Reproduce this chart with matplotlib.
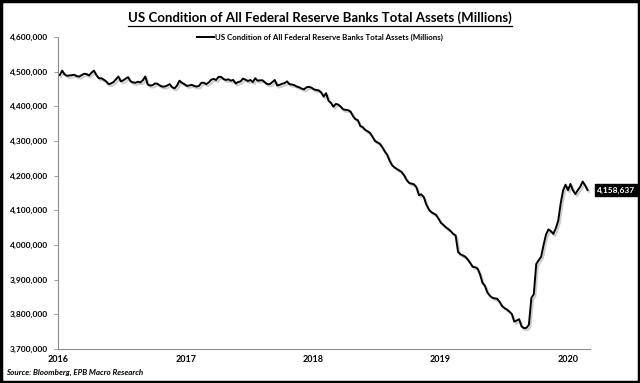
import matplotlib
matplotlib.use("Agg")
import matplotlib.pyplot as plt
import matplotlib.patheffects as pe
from matplotlib.lines import Line2D
from matplotlib.patches import Rectangle
from matplotlib.ticker import FuncFormatter
import pandas as pd
import numpy as np

plt.rcParams['font.family'] = ['Lato', 'DejaVu Sans']
plt.rcParams['font.weight'] = 'bold'

title = "US Condition of All Federal Reserve Banks Total Assets (Millions)"
series_name = "US Condition of All Federal Reserve Banks Total Assets (Millions)"
source = "Source: Bloomberg, EPB Macro Research"
start_date = "2016-01-06"  # weekly (Wednesday) observations

# values in thousands of millions-units (i.e. value/1000)
assets_2016 = [4490, 4503, 4492, 4488, 4489, 4490, 4491, 4487, 4486, 4490, 4494, 4493, 4489,
               4497, 4503, 4490, 4481, 4481, 4477, 4472, 4464, 4466, 4470, 4478, 4486, 4472,
               4475, 4480, 4484, 4472, 4469, 4468, 4471, 4469, 4475, 4486, 4463, 4460, 4461,
               4466, 4465, 4460, 4457, 4457, 4460, 4464, 4455, 4452, 4460, 4474, 4468, 4464]
assets_2017 = [4459, 4460, 4462, 4459, 4457, 4459, 4468, 4468, 4464, 4469, 4477, 4479, 4476,
               4485, 4485, 4479, 4476, 4478, 4474, 4476, 4466, 4470, 4472, 4480, 4477, 4473,
               4476, 4470, 4481, 4474, 4475, 4475, 4469, 4464, 4464, 4470, 4476, 4460, 4462,
               4465, 4467, 4472, 4464, 4463, 4461, 4457, 4455, 4451, 4449, 4455, 4456, 4454]
assets_2018 = [4449, 4447, 4446, 4440, 4428, 4438, 4416, 4410, 4399, 4407, 4405, 4399, 4391,
               4390, 4389, 4385, 4372, 4363, 4360, 4343, 4340, 4332, 4328, 4323, 4312, 4300,
               4296, 4292, 4282, 4270, 4260, 4243, 4230, 4224, 4219, 4215, 4210, 4200, 4187,
               4179, 4177, 4175, 4166, 4144, 4146, 4138, 4117, 4103, 4095, 4091, 4087, 4076]
assets_2019 = [4064, 4058, 4051, 4046, 4040, 4032, 4028, 3980, 3973, 3970, 3966, 3958, 3948,
               3937, 3936, 3932, 3915, 3891, 3882, 3863, 3854, 3848, 3846, 3845, 3836, 3824,
               3818, 3814, 3808, 3801, 3779, 3782, 3786, 3765, 3760, 3761, 3770, 3847, 3858,
               3945, 3956, 3966, 4000, 4030, 4045, 4040, 4032, 4048, 4070, 4120, 4158, 4174]
assets_2020 = [4158, 4176, 4158, 4147, 4158, 4168, 4183, 4172, 4158.637]

year_ticks = ["2016", "2017", "2018", "2019", "2020"]
y_ticks = [3700000, 3800000, 3900000, 4000000, 4100000, 4200000, 4300000, 4400000, 4500000, 4600000]

values = np.array(assets_2016 + assets_2017 + assets_2018 + assets_2019 + assets_2020) * 1000
dates = pd.date_range(start_date, periods=len(values), freq="7D")

W, H = 640, 383
fig = plt.figure(figsize=(W / 100, H / 100), dpi=100)
fig.patch.set_facecolor("white")
ax = fig.add_axes([58 / W, 1 - 349 / H, (590 - 58) / W, (349 - 37) / H])

line, = ax.plot(dates, values, color="black", lw=1.4, solid_joinstyle="round",
                label=series_name,
                path_effects=[pe.SimpleLineShadow(offset=(1.2, -1.5), shadow_color="gray", alpha=0.4),
                              pe.Normal()])

ax.set_ylim(y_ticks[0], y_ticks[-1])
ax.set_yticks(y_ticks)
ax.yaxis.set_major_formatter(FuncFormatter(lambda v, p: f"{v:,.0f}"))
ax.set_xlim(pd.Timestamp("2016-01-01"), pd.Timestamp("2020-03-04"))
ax.set_xticks([pd.Timestamp(f"{y}-01-01") for y in year_ticks])
ax.set_xticklabels(year_ticks)

for s in ["top", "right"]:
    ax.spines[s].set_visible(False)
for s in ["left", "bottom"]:
    ax.spines[s].set_color("#8c8c8c")
    ax.spines[s].set_linewidth(0.8)
ax.tick_params(axis="y", length=3, width=0.6, color="#8c8c8c", labelsize=6, pad=4)
ax.tick_params(axis="x", length=0, labelsize=6.5, pad=4)
for lab in ax.get_xticklabels() + ax.get_yticklabels():
    lab.set_fontweight("bold")

# last value label
ax.annotate(f"{values[-1]:,.0f}", xy=(dates[-1], values[-1]), xytext=(7, 0),
            textcoords="offset points", ha="left", va="center", fontsize=6,
            fontweight="bold", color="white", annotation_clip=False,
            bbox=dict(boxstyle="square,pad=0.25", fc="black", ec="black"))

# title with underline
t = fig.text(0.5, 1 - 18 / H, title, ha="center", va="center", fontsize=9.5, fontweight="bold")
fig.canvas.draw()
bb = t.get_window_extent().transformed(fig.transFigure.inverted())
fig.add_artist(Line2D([bb.x0, bb.x1], [bb.y0 - 0.004, bb.y0 - 0.004], color="black", lw=0.9,
                      transform=fig.transFigure))

leg = fig.legend(handles=[Line2D([0], [0], color="black", lw=1.4)], labels=[series_name],
                 loc="center", bbox_to_anchor=(0.5, 1 - 37 / H), frameon=False,
                 fontsize=5.7, handlelength=2.2, handletextpad=0.1, borderaxespad=0)
for txt in leg.get_texts():
    txt.set_fontweight("bold")

fig.text(6 / W, 1 - 372 / H, source, ha="left", va="center", fontsize=5.8,
         fontweight="bold", style="italic")

fig.add_artist(Rectangle((0.002, 0.003), 0.996, 0.994, transform=fig.transFigure,
                         fill=False, ec="black", lw=2.5))

fig.savefig("out.png", dpi=100)
